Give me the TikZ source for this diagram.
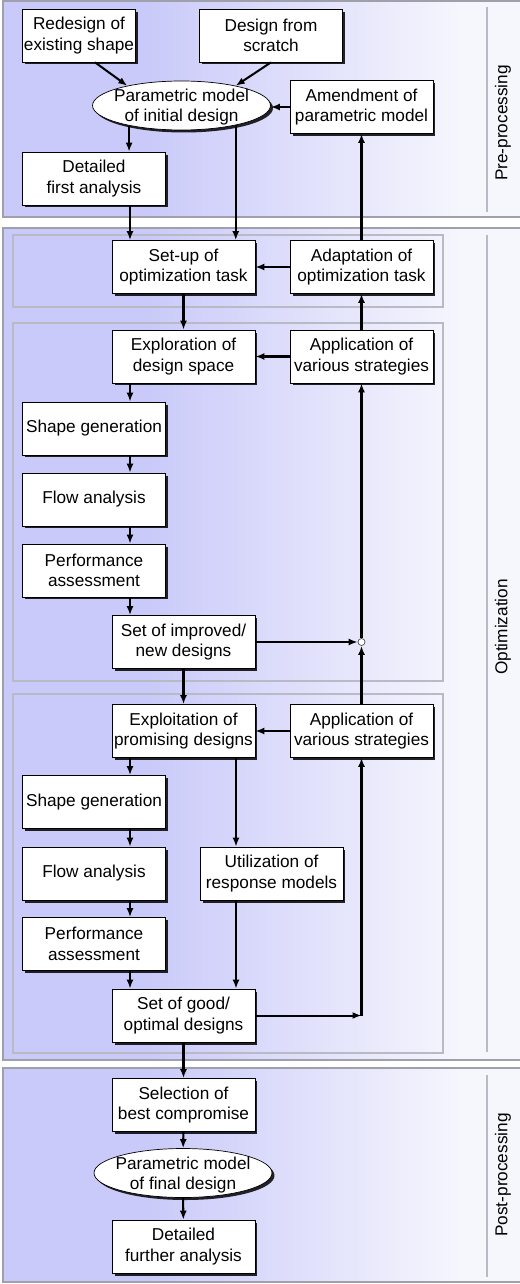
\documentclass[tikz,border=0pt]{standalone}
\usepackage{fontspec}
\setmainfont{Liberation Sans}
\usepackage{tikz}
\usetikzlibrary{arrows.meta,shapes.geometric,shadows}
\usepackage{xcolor}
\definecolor{panelleft}{RGB}{202,202,250}
\definecolor{panelright}{RGB}{246,246,253}
\definecolor{panelframe}{RGB}{160,160,172}
\definecolor{subframe}{RGB}{186,186,198}
\pgfdeclarehorizontalshading{panelfade}{100bp}{color(0bp)=(panelleft); color(39bp)=(panelleft); color(69bp)=(panelright); color(100bp)=(panelright)}
\tikzstyle{stepbox} = [rectangle, draw=black, fill=white, minimum width=2.86cm, minimum height=1.06cm, inner xsep=1pt, align=center, drop shadow={shadow xshift=0.05cm, shadow yshift=-0.05cm, fill=black, opacity=0.85}]
\tikzstyle{model} = [ellipse, draw=black, fill=white, minimum width=3.56cm, minimum height=0.98cm, inner sep=0pt, drop shadow={shadow xshift=0.05cm, shadow yshift=-0.05cm, fill=black, opacity=0.85}]
\tikzstyle{modeltext} = [align=center, inner sep=0pt, yshift=-1pt]
\tikzstyle{junction} = [circle, draw=black!70, fill=white, inner sep=0pt, minimum size=0.14cm]
\tikzstyle{arrow} = [line width=1.15pt, ->, >={Latex[length=1.8mm,width=1.4mm]}]
\tikzstyle{panel} = [shading=panelfade, draw=panelframe, line width=0.6pt]
\tikzstyle{subpanel} = [draw=subframe, line width=0.6pt]
\tikzstyle{divider} = [draw=subframe, line width=1pt]
\tikzstyle{sidelabel} = [rotate=90]

\begin{document}
\begin{tikzpicture}[x=0.02cm, y=-0.02cm, font=\fontsize{9.8}{11.6}\selectfont]
\useasboundingbox (0,0) rectangle (520,1284);

% Phases
\path[panel] (3,1) rectangle (523,217);
\path[panel] (3,228) rectangle (523,1060);
\path[panel] (3,1068) rectangle (523,1282);
\path[subpanel] (13,235) rectangle (443,307);
\path[subpanel] (13,323) rectangle (443,681);
\path[subpanel] (13,694) rectangle (443,1053);
\path[divider] (487,7) -- (487,212);
\path[divider] (487,235) -- (487,1052);
\path[divider] (487,1075) -- (487,1277);
\node[sidelabel] (prelabel) at (503,123) {Pre-processing};
\node[sidelabel] (optlabel) at (503,627) {Optimization};
\node[sidelabel] (postlabel) at (503,1175) {Post-processing};

% Lanes for vertical arrows
\coordinate (lanel) at (130,0);
\coordinate (laner) at (236,0);

% Pre-processing
\node[stepbox, minimum width=2.24cm] (redesign) at (79,35.5) {Redesign of\\existing shape};
\node[stepbox] (scratch) at (271,35.5) {Design from\\scratch};
\node[model] (initmodel) at (181.5,105.5) {};
\node[modeltext] (initmodeltext) at (initmodel) {Parametric model\\of initial design};
\node[stepbox] (amendment) at (361.5,107) {Amendment of\\parametric model};
\node[stepbox] (detailed1) at (94,178.5) {Detailed\\first analysis};

% Optimization task
\node[stepbox] (setup) at (183.5,267) {Set-up of\\optimization task};
\node[stepbox] (adaptation) at (361.5,267) {Adaptation of\\optimization task};

% Exploration
\node[stepbox] (explore) at (183.5,356.5) {Exploration of\\design space};
\node[stepbox] (apply1) at (361.5,356.5) {Application of\\various strategies};
\node[stepbox] (shape1) at (94,428.5) {Shape generation};
\node[stepbox] (flow1) at (94,499.5) {Flow analysis};
\node[stepbox] (perf1) at (94,570.5) {Performance\\assessment};
\node[stepbox] (improved) at (183.5,642) {Set of improved/\\new designs};
\node[junction] (junction) at (361.5,642) {};

% Exploitation
\node[stepbox] (exploit) at (183.5,731) {Exploitation of\\promising designs};
\node[stepbox] (apply2) at (361.5,731) {Application of\\various strategies};
\node[stepbox] (shape2) at (94,802) {Shape generation};
\node[stepbox] (flow2) at (94,873.5) {Flow analysis};
\node[stepbox] (perf2) at (94,944) {Performance\\assessment};
\node[stepbox] (utilize) at (271.5,873.5) {Utilization of\\response models};
\node[stepbox] (goodset) at (183.5,1015.5) {Set of good/\\optimal designs};
\coordinate (merge) at (361.5,1015.5);

% Post-processing
\node[stepbox] (select) at (183.5,1105) {Selection of\\best compromise};
\node[model] (finalmodel) at (183,1173) {};
\node[modeltext] (finalmodeltext) at (finalmodel) {Parametric model\\of final design};
\node[stepbox] (detailed2) at (183.5,1246.5) {Detailed\\further analysis};

% Arrows
\draw[arrow] ([xshift=0.32cm]redesign.south) -- (initmodel.160);
\draw[arrow] (scratch.south) -- (initmodel.20);
\draw[arrow] (amendment.west) -- (amendment.west -| initmodel.east);
\draw[arrow] (initmodel.201) -- (initmodel.201 |- detailed1.north);
\draw[arrow] (initmodel.340.5) -- (initmodel.340.5 |- setup.north);
\draw[arrow] (detailed1.south -| lanel) -- (setup.north -| lanel);
\draw[arrow] (adaptation.north) -- (amendment.south);
\draw[arrow] (adaptation.west) -- (setup.east);
\draw[arrow] (setup) -- (explore);
\draw[arrow] (apply1.west) -- (explore.east);
\draw[arrow] (apply1.north) -- (adaptation.south);
\draw[arrow] (explore.south -| lanel) -- (shape1.north -| lanel);
\draw[arrow] (shape1.south -| lanel) -- (flow1.north -| lanel);
\draw[arrow] (flow1.south -| lanel) -- (perf1.north -| lanel);
\draw[arrow] (perf1.south -| lanel) -- (improved.north -| lanel);
\draw[arrow] (improved.east) -- (junction);
\draw[arrow] (junction) -- (apply1.south);
\draw[arrow] (apply2.north) -- (junction);
\draw[arrow] (improved) -- (exploit);
\draw[arrow] (apply2.west) -- (exploit.east);
\draw[arrow] (exploit.south -| lanel) -- (shape2.north -| lanel);
\draw[arrow] (shape2.south -| lanel) -- (flow2.north -| lanel);
\draw[arrow] (flow2.south -| lanel) -- (perf2.north -| lanel);
\draw[arrow] (perf2.south -| lanel) -- (goodset.north -| lanel);
\draw[arrow] (exploit.south -| laner) -- (utilize.north -| laner);
\draw[arrow] (utilize.south -| laner) -- (goodset.north -| laner);
\draw[arrow] (goodset.east) -- (merge);
\draw[arrow] (merge) -- (apply2.south);
\draw[arrow] (goodset) -- (select);
\draw[arrow] (select) -- (finalmodel);
\draw[arrow] (finalmodel) -- (detailed2);
\end{tikzpicture}
\end{document}
